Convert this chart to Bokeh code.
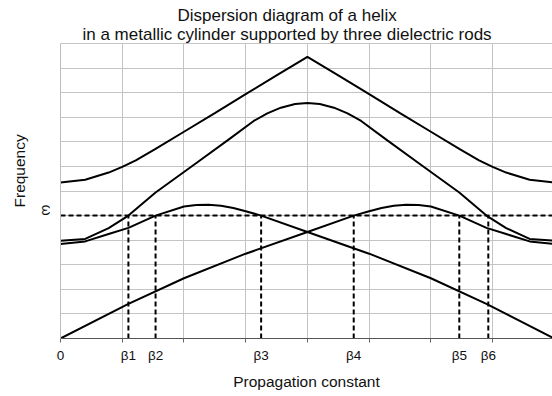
import math
from bokeh.plotting import figure
from bokeh.models import Range1d, FixedTicker, Title
from bokeh.core.properties import value
from bokeh.embed import file_html
from bokeh.resources import INLINE

# ---- data ----
# upper band (top curve)
a_x = [0, 0.4, 0.78, 1.0, 1.22, 1.54, 2.0, 2.5, 3.0, 3.5, 4.0, 4.5, 5.0, 5.5, 6.0, 6.46, 6.78, 7.0, 7.22, 7.6, 8.0]
a_y = [6.35, 6.46, 6.75, 6.98, 7.25, 7.71, 8.41, 9.17, 9.94, 10.7, 11.46, 10.7, 9.94, 9.17, 8.41, 7.71, 7.25, 6.98, 6.75, 6.46, 6.35]
# second band (rounded top)
b_x = [0, 0.4, 0.78, 1.1, 1.54, 2.19, 2.7, 3.13, 3.35, 3.57, 3.8, 4.0, 4.2, 4.43, 4.65, 4.87, 5.3, 5.81, 6.46, 6.9, 7.22, 7.6, 8.0]
b_y = [3.98, 4.05, 4.49, 5.0, 5.94, 7.12, 8.05, 8.85, 9.16, 9.39, 9.54, 9.58, 9.54, 9.39, 9.16, 8.85, 8.05, 7.12, 5.94, 5.0, 4.49, 4.05, 3.98]
# lower band, left-peaked branch
c_x = [0, 0.4, 0.78, 1.1, 1.54, 2.0, 2.2, 2.4, 2.6, 2.8, 3.0, 3.25, 4.0, 5.0, 6.0, 6.9, 8.0]
c_y = [3.84, 3.95, 4.25, 4.5, 5.0, 5.37, 5.43, 5.44, 5.4, 5.31, 5.18, 5.0, 4.33, 3.45, 2.45, 1.41, 0]
# lower band, right-peaked branch
d_x = [0, 1.1, 2.0, 3.0, 4.0, 4.75, 5.0, 5.2, 5.4, 5.6, 5.8, 6.0, 6.46, 6.9, 7.22, 7.6, 8.0]
d_y = [0, 1.41, 2.45, 3.45, 4.33, 5.0, 5.18, 5.31, 5.4, 5.44, 5.43, 5.37, 5.0, 4.5, 4.25, 3.95, 3.84]

omega = 5.0
betas = [1.1, 1.54, 3.25, 4.75, 6.46, 6.93]
beta_labels = ["β1", "β2", "β3", "β4", "β5", "β6"]
grid_x = [0, 1, 2, 3, 4, 5, 6, 7, 8]
grid_y = list(range(0, 13))

title_lines = ["Dispersion diagram of a helix",
               "in a metallic cylinder supported by three dielectric rods"]
x_title = "Propagation constant"
y_title = "Frequency"

FONT = "Liberation Sans"

# frame reaches the top of the page; the area above y=12 holds the title
p = figure(width=552, height=396, output_backend="svg", toolbar_location=None,
           x_range=Range1d(0, 7.97), y_range=Range1d(0, 13.75),
           min_border_left=60, min_border_right=0, min_border_top=0, min_border_bottom=58)
p.background_fill_color = "white"
p.border_fill_color = "white"
p.outline_line_color = None

# grid
p.xgrid.ticker = FixedTicker(ticks=grid_x)
p.ygrid.ticker = FixedTicker(ticks=grid_y)
p.xgrid.cross_bounds = (0, 12)
for g in (p.xgrid, p.ygrid):
    g.grid_line_color = "#c4c4c4"
    g.grid_line_width = 1

# x axis
xa = p.xaxis[0]
xa.ticker = FixedTicker(ticks=[0] + betas, minor_ticks=grid_x)
xa.major_label_overrides = {0: "0", **{b: l for b, l in zip(betas, beta_labels)}}
xa.major_tick_out = 0
xa.major_tick_in = 0
xa.minor_tick_out = 4
xa.minor_tick_in = 0
xa.minor_tick_line_color = "#666666"
xa.axis_line_color = "#555555"
xa.major_label_text_font = FONT
xa.major_label_text_font_size = "13.5px"
xa.major_label_text_color = "#111111"
xa.major_label_standoff = 5
xa.axis_label = x_title
xa.axis_label_text_font = FONT
xa.axis_label_text_font_size = "15.5px"
xa.axis_label_text_font_style = "normal"
xa.axis_label_text_color = "#111111"
xa.axis_label_standoff = 7

# y axis
ya = p.yaxis[0]
ya.bounds = (0, 12)
ya.ticker = FixedTicker(ticks=[omega])
ya.major_label_overrides = {omega: "ω"}
ya.major_label_orientation = -math.pi / 2
ya.major_tick_out = 0
ya.major_tick_in = 0
ya.minor_tick_out = 0
ya.minor_tick_in = 0
ya.axis_line_color = "#bdbdbd"
ya.major_label_text_font = FONT
ya.major_label_text_font_size = "14px"
ya.major_label_text_color = "#111111"
ya.major_label_standoff = 14

# curves
for xs, ys in ((a_x, a_y), (b_x, b_y), (c_x, c_y), (d_x, d_y)):
    p.line(xs, ys, line_color="black", line_width=2)

# dashed construction lines
p.segment(x0=[0], y0=[omega], x1=[8], y1=[omega], line_color="black", line_width=2, line_dash="5 3")
p.segment(x0=betas, y0=[0] * len(betas), x1=betas, y1=[omega] * len(betas),
          line_color="black", line_width=2, line_dash="5 3")

# two-line title drawn inside the (extended) frame
p.text(x=[3.67, 3.67], y=[13.12, 12.37], text=title_lines,
       text_font=value(FONT), text_font_size="17px", text_align="center",
       text_baseline="alphabetic", text_color="#111111")

# y-axis title
ty = Title(text=y_title, align="left", offset=131, standoff=0,
           text_font=FONT, text_font_size="15.5px", text_font_style="normal", text_color="#111111")
p.add_layout(ty, "left")

open("out.html", "w").write(file_html(p, INLINE))
